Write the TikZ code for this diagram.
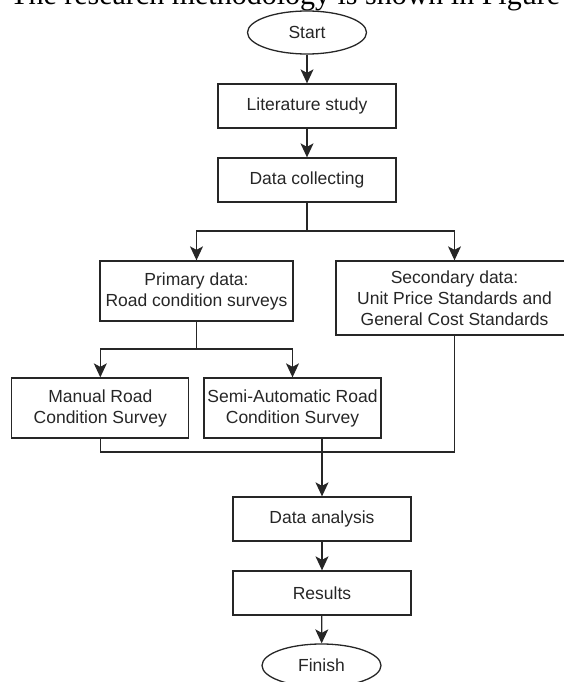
\documentclass[tikz,border=0pt]{standalone}
\usepackage{fontspec}
\setmainfont{Liberation Serif}
\setsansfont{Liberation Sans}
\usetikzlibrary{shapes.geometric, arrows.meta}
\tikzset{>={Stealth[length=14pt,width=13pt,inset=3.5pt]}}
\tikzset{
    flowline/.style={line width=1.3pt, black!85},
    stepbox/.style={draw, line width=1.3pt, black!85, rectangle, inner sep=0pt,
        text=black!85, font=\sffamily\fontsize{17.5}{21}\selectfont, align=center},
    terminal/.style={stepbox, ellipse, minimum width=119pt, minimum height=43pt}
}

\begin{document}
\begin{tikzpicture}[x=1pt,y=-1pt]
    \clip (0,0) rectangle (564,682);

    %running text of the page, cut at the top
    \node[anchor=base west, inner sep=0pt, font=\fontsize{30}{34}\selectfont] (caption) at (10,5)
        {The research methodology is shown in Figure};

    %main column
    \node[terminal] (start) at (307,32.5) {Start};
    \node[stepbox, minimum width=178pt, minimum height=44pt] (lit) at (307,106) {Literature study};
    \node[stepbox, minimum width=178pt, minimum height=44pt] (collect) at (307,180) {Data collecting};

    %data sources
    \node[stepbox, minimum width=193pt, minimum height=60pt] (primary) at (196.5,291)
        {Primary data:\\Road condition surveys};
    \node[stepbox, minimum width=237pt, minimum height=74pt] (secondary) at (454.5,298)
        {Secondary data:\\Unit Price Standards and\\General Cost Standards};

    %surveys
    \node[stepbox, minimum width=177pt, minimum height=60pt] (manual) at (100.3,408)
        {Manual Road\\Condition Survey};
    \node[stepbox, minimum width=177pt, minimum height=60pt] (semi) at (292.5,408)
        {Semi-Automatic Road\\Condition Survey};

    %end of the flow
    \node[stepbox, minimum width=178pt, minimum height=44pt] (analysis) at (322,519) {Data analysis};
    \node[stepbox, minimum width=178pt, minimum height=44pt] (results) at (322,593) {Results};
    \node[terminal] (finish) at (321.5,665.5) {Finish};

    %junctions
    \coordinate (split1) at (307,231);
    \coordinate (split2) at (196.5,349);
    \coordinate (join) at (322,452);

    %connectors
    \draw[flowline, ->] (start) -- (lit);
    \draw[flowline, ->] (lit) -- (collect);
    \draw[flowline] (collect) -- (split1);
    \draw[flowline, ->] (split1) -| (primary);
    \draw[flowline, ->] (split1) -| (secondary);
    \draw[flowline] (primary) -- (split2);
    \draw[flowline, ->] (split2) -| (manual);
    \draw[flowline, ->] (split2) -| (semi);
    \draw[flowline] (manual) |- (join) -| (secondary);
    \draw[flowline, ->] (semi.south -| analysis) -- (analysis);
    \draw[flowline, ->] (analysis) -- (results);
    \draw[flowline, ->] (results) -- (finish);
\end{tikzpicture}
\end{document}
